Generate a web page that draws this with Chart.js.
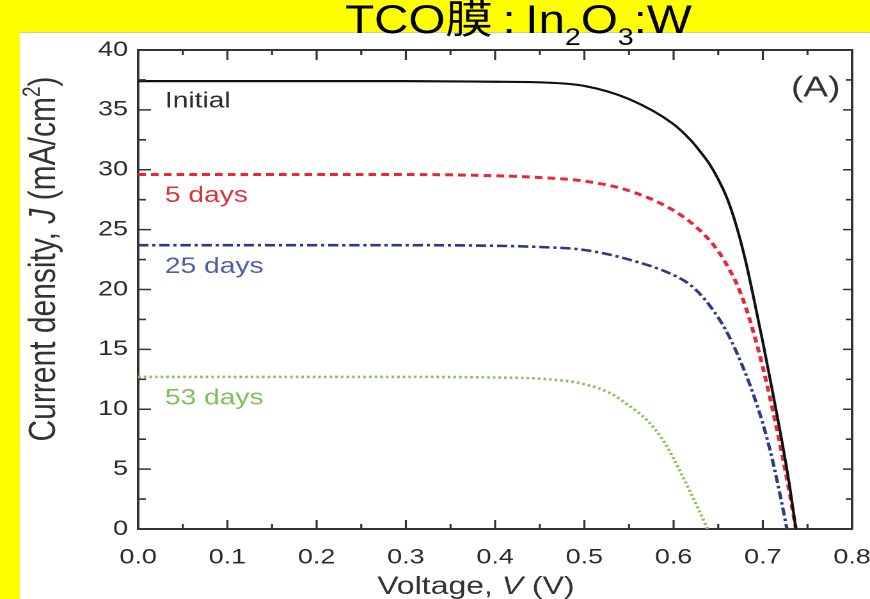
<!DOCTYPE html>
<html>
<head>
<meta charset="utf-8">
<script src="https://cdn.jsdelivr.net/npm/chart.js@4.4.1/dist/chart.umd.min.js"></script>
<style>
  html, body { margin: 0; padding: 0; width: 870px; height: 599px; overflow: hidden; background: #ffff00; }
  #panel { position: absolute; left: 20px; top: 32px; width: 850px; height: 567px; background: #fff; border-top: 1px solid #cfcf9a; }
  /* the source figure is stretched sideways, so the whole chart is too */
  #wrap { position: absolute; left: 0; top: 0; width: 680px; height: 599px; transform: scaleX(1.2794); transform-origin: 0 0; }
</style>
</head>
<body>
<div id="panel"></div>
<div id="wrap"><canvas id="line-chart"></canvas></div>
<script>
  // J-V curves, voltage (V) and current density (mA/cm2)
  var initialV = [0, 0.1, 0.2, 0.3, 0.4, 0.45, 0.5, 0.55, 0.6, 0.62, 0.63, 0.64, 0.65, 0.66, 0.67, 0.68, 0.69, 0.70, 0.71, 0.72, 0.73, 0.737];
  var initialJ = [37.4, 37.4, 37.4, 37.4, 37.35, 37.3, 37.0, 35.9, 33.8, 32.4, 31.5, 30.5, 29.2, 27.6, 25.4, 22.6, 19.2, 15.6, 11.8, 7.9, 3.6, 0];

  var days5V = [0, 0.1, 0.2, 0.3, 0.4, 0.45, 0.5, 0.55, 0.6, 0.63, 0.65, 0.66, 0.67, 0.68, 0.69, 0.70, 0.71, 0.72, 0.73, 0.737];
  var days5J = [29.6, 29.6, 29.6, 29.6, 29.5, 29.35, 29.05, 28.25, 26.6, 24.9, 23.2, 22.0, 20.6, 18.7, 16.3, 13.5, 10.3, 6.8, 3.0, 0];

  var days25V = [0, 0.1, 0.2, 0.3, 0.4, 0.45, 0.5, 0.55, 0.6, 0.62, 0.64, 0.66, 0.68, 0.69, 0.70, 0.71, 0.72, 0.727];
  var days25J = [23.7, 23.7, 23.7, 23.7, 23.65, 23.55, 23.3, 22.5, 21.2, 20.3, 18.7, 16.4, 13.1, 11.1, 8.8, 6.0, 2.6, 0];

  var days53V = [0, 0.1, 0.2, 0.3, 0.4, 0.45, 0.5, 0.53, 0.55, 0.57, 0.59, 0.61, 0.625, 0.638];
  var days53J = [12.7, 12.7, 12.7, 12.7, 12.65, 12.55, 12.1, 11.3, 10.3, 9.1, 7.2, 4.4, 2.1, 0];

  var seriesNames = ['Initial', '5 days', '25 days', '53 days'];
  var xTickLabels = ['0.0', '0.1', '0.2', '0.3', '0.4', '0.5', '0.6', '0.7', '0.8'];

  var fam = '"Liberation Sans", Arial, "Noto Sans CJK SC", sans-serif';

  function pts(vs, js) {
    var out = [];
    for (var i = 0; i < vs.length; i++) out.push({x: vs[i], y: js[i]});
    return out;
  }

  // draws a row of text pieces (italic / sub / sup), returns width
  function pieces(ctx, list, x, y, doDraw) {
    var w = 0;
    for (var i = 0; i < list.length; i++) {
      var p = list[i];
      ctx.font = (p.it ? 'italic ' : '') + p.size + 'px ' + fam;
      if (doDraw) ctx.fillText(p.t, x + w, y + (p.dy || 0));
      w += ctx.measureText(p.t).width;
    }
    return w;
  }

  var decor = {
    id: 'decor',
    afterDraw: function (chart) {
      var ctx = chart.ctx, a = chart.chartArea, x = chart.scales.x, y = chart.scales.y;
      ctx.save();

      // top and right frame
      ctx.strokeStyle = '#333';
      ctx.lineWidth = 2;
      ctx.beginPath();
      ctx.moveTo(a.left, a.top);
      ctx.lineTo(a.right, a.top);
      ctx.lineTo(a.right, a.bottom);
      ctx.stroke();

      // inward ticks on all four sides
      ctx.lineWidth = 1.6;
      ctx.beginPath();
      for (var i = 1; i < 16; i++) {
        var px = x.getPixelForValue(i * 0.05);
        var major = i % 2 == 0;
        ctx.moveTo(px, a.bottom); ctx.lineTo(px, a.bottom - (major ? 9 : 5));
        ctx.moveTo(px, a.top); ctx.lineTo(px, a.top + (major ? 10 : 5));
      }
      for (var k = 1; k < 16; k++) {
        var py = y.getPixelForValue(k * 2.5);
        var maj = k % 2 == 0;
        ctx.moveTo(a.left, py); ctx.lineTo(a.left + (maj ? 10 : 6), py);
        ctx.moveTo(a.right, py); ctx.lineTo(a.right - (maj ? 7 : 5), py);
      }
      ctx.stroke();

      // curve names
      var notes = [[0, 35.7, '#2a2a2a'], [1, 27.8, '#d9333f'], [2, 21.9, '#4f5fa6'], [3, 10.9, '#7fbf5a']];
      ctx.font = '22px ' + fam;
      ctx.textBaseline = 'middle';
      ctx.textAlign = 'left';
      notes.forEach(function (n) {
        ctx.fillStyle = n[2];
        ctx.fillText(seriesNames[n[0]], x.getPixelForValue(0.03), y.getPixelForValue(n[1]));
      });

      ctx.fillStyle = '#333';
      ctx.font = '29px ' + fam;
      ctx.textAlign = 'right';
      ctx.fillText('(A)', x.getPixelForValue(0.787), y.getPixelForValue(36.8));

      // axis titles
      ctx.textAlign = 'left';
      ctx.textBaseline = 'alphabetic';
      ctx.fillStyle = '#333';
      var xt = [{t: 'Voltage, ', size: 25}, {t: 'V', size: 25, it: true}, {t: ' (V)', size: 25}];
      var wx = pieces(ctx, xt, 0, 0, false);
      pieces(ctx, xt, 372 - wx / 2, 594, true);

      var yt = [{t: 'Current density, ', size: 30}, {t: 'J', size: 30, it: true}, {t: ' (mA/cm', size: 30},
                {t: '2', size: 19, dy: -12}, {t: ')', size: 30}];
      var wy = pieces(ctx, yt, 0, 0, false);
      ctx.save();
      ctx.translate(43, 259);
      ctx.rotate(-Math.PI / 2);
      pieces(ctx, yt, -wy / 2, 0, true);
      ctx.restore();

      // slide title
      ctx.fillStyle = '#000';
      var tt = [{t: 'TCO膜\u2009:\u2009In', size: 40}, {t: '2', size: 24, dy: 12}, {t: 'O', size: 40},
                {t: '3', size: 24, dy: 12}, {t: ':W', size: 40}];
      var wt = pieces(ctx, tt, 0, 0, false);
      ctx.save();
      ctx.translate(269.7, 33);
      ctx.scale(271 / wt, 1);
      pieces(ctx, tt, 0, 0, true);
      ctx.restore();

      ctx.restore();
    }
  };

  new Chart(document.getElementById('line-chart'), {
    type: 'scatter',
    data: {
      datasets: [
        { label: seriesNames[0], data: pts(initialV, initialJ), showLine: true, borderColor: '#111', borderWidth: 2.2,
          pointRadius: 0, cubicInterpolationMode: 'monotone' },
        { label: seriesNames[1], data: pts(days5V, days5J), showLine: true, borderColor: '#e5283a', borderWidth: 3,
          borderDash: [6, 4], pointRadius: 0, cubicInterpolationMode: 'monotone' },
        { label: seriesNames[2], data: pts(days25V, days25J), showLine: true, borderColor: '#2b3a86', borderWidth: 2.6,
          borderDash: [8, 3, 2.5, 3], pointRadius: 0, cubicInterpolationMode: 'monotone' },
        { label: seriesNames[3], data: pts(days53V, days53J), showLine: true, borderColor: '#86c25a', borderWidth: 2.6,
          borderDash: [2, 2.4], pointRadius: 0, cubicInterpolationMode: 'monotone' }
      ]
    },
    options: {
      responsive: true,
      maintainAspectRatio: false,
      animation: false,
      devicePixelRatio: 2,
      layout: { padding: { top: 50, right: 14, left: 0, bottom: 0 } },
      plugins: { legend: { display: false }, tooltip: { enabled: false } },
      scales: {
        x: {
          type: 'linear', min: 0, max: 0.8,
          afterFit: function (s) { s.height = 70; s.paddingLeft = 0; s.paddingRight = 0; },
          grid: { display: false, drawTicks: false },
          border: { color: '#333', width: 2 },
          ticks: {
            stepSize: 0.1, autoSkip: false, maxRotation: 0, padding: 16, color: '#2b2b2b',
            font: { size: 21, family: fam },
            callback: function (v) { return xTickLabels[Math.round(v * 10)]; }
          }
        },
        y: {
          min: 0, max: 40,
          afterFit: function (s) { s.width = 108; s.paddingTop = 0; s.paddingBottom = 0; },
          grid: { display: false, drawTicks: false },
          border: { color: '#333', width: 2 },
          ticks: { stepSize: 5, padding: 8, color: '#2b2b2b', font: { size: 21, family: fam } }
        }
      }
    },
    plugins: [decor]
  });
</script>
</body>
</html>
